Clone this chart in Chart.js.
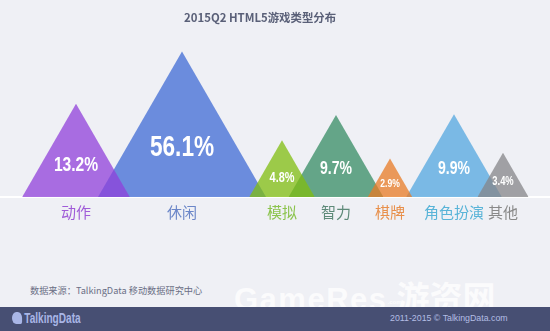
<!DOCTYPE html>
<html>
<head>
<meta charset="utf-8">
<script src="https://cdn.jsdelivr.net/npm/chart.js@4"></script>
<style>
  html, body { margin: 0; padding: 0; }
  body {
    width: 550px; height: 331px; overflow: hidden; position: relative;
    background: #eff0f5;
    font-family: "Noto Sans CJK SC", "Noto Sans", sans-serif;
  }
  #chart { position: absolute; left: 0; top: 0; }
  .title {
    position: absolute; left: 184px; top: 9px; white-space: nowrap;
    font-size: 11.4px; font-weight: bold; color: #5a6078;
  }
  .source {
    position: absolute; left: 30px; top: 283px;
    font-size: 9.2px; color: #6b6f85; white-space: nowrap;
  }
  .watermark {
    position: absolute; left: 234px; top: 272px;
    font-family: "Liberation Sans", Arial, sans-serif; font-weight: bold;
    font-size: 31px; color: rgba(255,255,255,0.75); letter-spacing: 1.5px;
    white-space: nowrap;
  }
  .watermark .com { font-size: 6px; display: inline-block; width: 9px; line-height: 6px; vertical-align: 6px; letter-spacing: 0; }
  .watermark .cn { font-family: "Noto Sans CJK SC", sans-serif; font-size: 33px; letter-spacing: 0; }
  .footer {
    position: absolute; left: 0; top: 307px; width: 550px; height: 24px;
    background: #474f73;
  }
  .logo {
    position: absolute; left: 12px; top: 3px; color: #a9b6e6;
    font-family: "Liberation Sans", Arial, sans-serif;
    font-weight: bold; font-size: 14px; white-space: nowrap;
    transform: scaleX(0.72); transform-origin: left center;
  }
  .logo i {
    display: inline-block; width: 14px; height: 12px; border-radius: 6px 6px 2px 6px;
    background: #a9b6e6; vertical-align: -1px; margin-right: 3px;
  }
  .copy {
    position: absolute; left: 390px; top: 6px; color: #b3bde4;
    font-family: "Liberation Sans", Arial, sans-serif; font-size: 8.8px;
    white-space: nowrap;
  }
</style>
</head>
<body>
<canvas id="chart" width="550" height="227"></canvas>
<div class="title">2015Q2 HTML5游戏类型分布</div>
<div class="source">数据来源：TalkingData 移动数据研究中心</div>
<div class="watermark">GameRes<span class="com">.com</span><span class="cn">游资网</span></div>
<div class="footer">
  <div class="logo"><i></i>TalkingData</div>
  <div class="copy">2011-2015 © TalkingData.com</div>
</div>
<script>
// HTML5 game genres, share of titles in 2015 Q2 (%)
const categories = ['动作', '休闲', '模拟', '智力', '棋牌', '角色扮演', '其他'];
const shares = [13.2, 56.1, 4.8, 9.7, 2.9, 9.9, 3.4];

// layout: where each peak sits on the 0..550 x axis
const peakX = [76, 182, 282, 336, 390, 454, 503];

const fillColors = [
  'rgba(144, 64, 217, 0.75)',
  'rgba(63, 107, 212, 0.75)',
  'rgba(128, 189, 15, 0.75)',
  'rgba(53, 140, 99, 0.75)',
  'rgba(232, 123, 36, 0.75)',
  'rgba(83, 167, 223, 0.75)',
  'rgba(133, 133, 136, 0.75)'
];
const labelColors = ['#a05cd8', '#6b86c8', '#8cc44e', '#5e8a79', '#e8904c', '#59b4d8', '#898989'];

const BASE = 1; // log axis floor, every triangle stands on it

// white percentage text inside each triangle, sized to the triangle
const valueLabels = {
  id: 'valueLabels',
  afterDatasetsDraw(chart) {
    const { ctx, scales: { y } } = chart;
    const baseY = y.getPixelForValue(BASE);
    ctx.save();
    ctx.fillStyle = '#ffffff';
    ctx.textAlign = 'center';
    ctx.textBaseline = 'middle';
    chart.data.datasets.forEach((ds, i) => {
      const peak = chart.getDatasetMeta(i).data[1];
      if (!peak) return;
      const h = baseY - peak.y;
      const size = Math.round(4 + h * 0.17);
      ctx.save();
      ctx.translate(peak.x, peak.y + h * 0.66);
      ctx.scale(0.78, 1); // squeeze into a condensed face
      ctx.font = 'bold ' + size + 'px "Liberation Sans", Arial, sans-serif';
      ctx.fillText(shares[i].toFixed(1) + '%', 0, 0);
      ctx.restore();
    });
    ctx.restore();
  }
};

const chart = new Chart(document.getElementById('chart'), {
  type: 'line',
  data: {
    datasets: categories.map((name, i) => ({
      label: name,
      data: [],
      order: shares[i],          // smaller triangles drawn on top
      backgroundColor: fillColors[i],
      borderColor: 'rgba(0,0,0,0)',
      borderWidth: 0,
      pointRadius: 0,
      tension: 0,
      fill: 'start'
    }))
  },
  options: {
    responsive: false,
    animation: false,
    events: [],
    layout: { padding: { top: 30.6, left: 0, right: 0, bottom: 0 } },
    plugins: {
      legend: { display: false },
      tooltip: { enabled: false }
    },
    scales: {
      x: {
        type: 'linear',
        min: 0,
        max: 550,
        grid: { display: false, drawTicks: false },
        border: { display: true, color: '#ffffff', width: 2 },
        afterBuildTicks: axis => { axis.ticks = peakX.map(v => ({ value: v })); },
        ticks: {
          autoSkip: false,
          maxRotation: 0,
          padding: 6,
          font: { family: '"Noto Sans CJK SC", sans-serif', size: 15 },
          color: ctx => labelColors[ctx.index],
          callback: (value, index) => categories[index]
        }
      },
      y: {
        type: 'logarithmic',
        display: false,
        min: BASE,
        max: 100
      }
    }
  },
  plugins: [valueLabels]
});

// equilateral triangles: base half-width follows the pixel height of each peak
const xs = chart.scales.x, ys = chart.scales.y;
const baseY = ys.getPixelForValue(BASE);
chart.data.datasets.forEach((ds, i) => {
  const h = baseY - ys.getPixelForValue(shares[i]);
  const half = h * Math.tan(Math.PI / 6);
  const cx = xs.getPixelForValue(peakX[i]);
  ds.data = [
    { x: xs.getValueForPixel(cx - half), y: BASE },
    { x: peakX[i], y: shares[i] },
    { x: xs.getValueForPixel(cx + half), y: BASE }
  ];
});
chart.update('none');
</script>
</body>
</html>
